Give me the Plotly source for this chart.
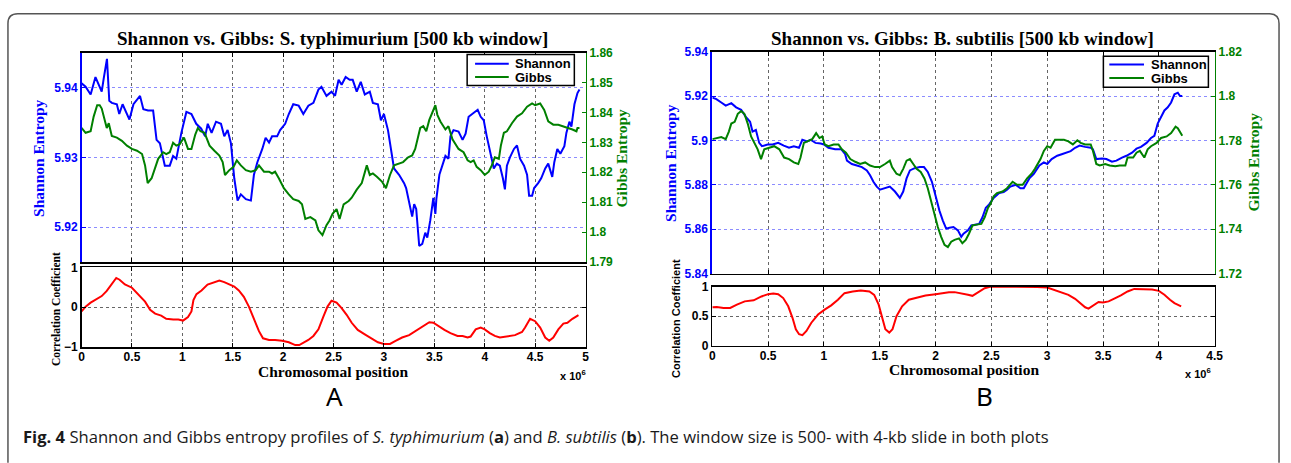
import plotly.graph_objects as go

# ---------------- data (positions in units of 10^6 bp) ----------------
a_shannon_pos = [0.0, 0.04, 0.09, 0.138, 0.17, 0.2, 0.22, 0.252, 0.275, 0.30, 0.35, 0.374, 0.407, 0.45, 0.475, 0.515, 0.58, 0.613, 0.66, 0.71, 0.744, 0.777, 0.826, 0.875, 0.908, 0.94, 0.99, 1.04, 1.09, 1.138, 1.187, 1.226, 1.252, 1.29, 1.334, 1.383, 1.416, 1.449, 1.482, 1.515, 1.548, 1.58, 1.63, 1.68, 1.71, 1.744, 1.793, 1.826, 1.86, 1.89, 1.94, 1.97, 2.02, 2.056, 2.1, 2.154, 2.2, 2.25, 2.3, 2.35, 2.38, 2.43, 2.48, 2.515, 2.55, 2.58, 2.62, 2.66, 2.69, 2.73, 2.77, 2.81, 2.86, 2.89, 2.94, 2.97, 3.0, 3.04, 3.07, 3.1, 3.15, 3.2, 3.22, 3.25, 3.28, 3.3, 3.32, 3.35, 3.38, 3.41, 3.43, 3.46, 3.49, 3.51, 3.52, 3.55, 3.58, 3.61, 3.64, 3.66, 3.69, 3.74, 3.78, 3.81, 3.84, 3.875, 3.91, 3.93, 3.96, 3.99, 4.02, 4.06, 4.09, 4.12, 4.15, 4.18, 4.2, 4.22, 4.25, 4.29, 4.32, 4.35, 4.39, 4.42, 4.44, 4.47, 4.49, 4.53, 4.56, 4.6, 4.63, 4.67, 4.69, 4.72, 4.75, 4.79, 4.81, 4.84, 4.86, 4.89, 4.92, 4.94]
a_shannon_val = [5.9406, 5.9401, 5.9390, 5.9415, 5.9404, 5.9394, 5.9413, 5.9441, 5.9381, 5.9378, 5.9376, 5.9362, 5.9376, 5.9362, 5.9354, 5.9376, 5.9388, 5.9369, 5.9367, 5.9367, 5.9325, 5.9320, 5.9288, 5.9288, 5.9302, 5.9298, 5.9335, 5.9365, 5.9362, 5.9348, 5.9341, 5.9330, 5.9348, 5.9335, 5.9351, 5.9348, 5.9330, 5.9339, 5.9320, 5.9270, 5.9238, 5.9247, 5.9240, 5.9238, 5.9275, 5.9293, 5.9312, 5.9328, 5.9321, 5.9330, 5.9330, 5.9339, 5.9348, 5.9362, 5.9376, 5.9374, 5.9362, 5.9374, 5.9378, 5.9397, 5.9401, 5.9388, 5.9394, 5.9388, 5.9411, 5.9404, 5.9415, 5.9411, 5.9411, 5.9394, 5.9408, 5.9390, 5.9394, 5.9378, 5.9376, 5.9353, 5.9362, 5.9339, 5.9312, 5.9284, 5.9275, 5.9263, 5.9256, 5.9233, 5.9215, 5.9233, 5.9226, 5.9173, 5.9176, 5.9192, 5.9185, 5.9210, 5.9242, 5.9219, 5.9240, 5.9275, 5.9288, 5.9302, 5.9298, 5.9330, 5.9339, 5.9337, 5.9325, 5.9334, 5.9358, 5.9362, 5.9365, 5.9368, 5.9358, 5.9353, 5.9330, 5.9302, 5.9284, 5.9291, 5.9288, 5.9270, 5.9254, 5.9288, 5.9300, 5.9312, 5.9317, 5.9298, 5.9288, 5.9275, 5.9245, 5.9245, 5.9256, 5.9263, 5.9270, 5.9284, 5.9291, 5.9272, 5.9293, 5.9312, 5.9305, 5.9316, 5.9335, 5.9351, 5.9344, 5.9376, 5.9392, 5.9397]

a_gibbs_pos = [0.0, 0.04, 0.09, 0.12, 0.155, 0.18, 0.2, 0.22, 0.25, 0.27, 0.3, 0.35, 0.4, 0.45, 0.5, 0.55, 0.6, 0.63, 0.656, 0.695, 0.728, 0.76, 0.81, 0.84, 0.875, 0.908, 0.94, 0.974, 1.016, 1.056, 1.09, 1.128, 1.154, 1.18, 1.22, 1.27, 1.318, 1.367, 1.4, 1.423, 1.466, 1.508, 1.54, 1.58, 1.63, 1.68, 1.728, 1.76, 1.81, 1.86, 1.89, 1.92, 1.957, 2.007, 2.056, 2.1, 2.154, 2.187, 2.22, 2.27, 2.32, 2.35, 2.39, 2.43, 2.46, 2.49, 2.53, 2.56, 2.6, 2.65, 2.68, 2.73, 2.78, 2.83, 2.86, 2.89, 2.93, 2.98, 3.02, 3.06, 3.1, 3.15, 3.19, 3.24, 3.28, 3.31, 3.33, 3.36, 3.39, 3.42, 3.45, 3.48, 3.51, 3.53, 3.56, 3.61, 3.64, 3.68, 3.71, 3.74, 3.79, 3.83, 3.86, 3.89, 3.92, 3.96, 4.0, 4.04, 4.07, 4.1, 4.14, 4.16, 4.19, 4.22, 4.27, 4.32, 4.37, 4.42, 4.47, 4.5, 4.55, 4.59, 4.63, 4.68, 4.73, 4.78, 4.83, 4.87, 4.91, 4.92, 4.94]
a_gibbs_val = [1.8348, 1.8332, 1.8337, 1.8386, 1.8424, 1.8424, 1.8413, 1.8386, 1.8348, 1.8364, 1.8321, 1.8316, 1.8305, 1.8289, 1.8278, 1.8272, 1.8261, 1.8223, 1.8164, 1.8180, 1.8213, 1.8245, 1.8267, 1.8261, 1.8267, 1.8299, 1.8289, 1.8294, 1.8316, 1.8278, 1.8278, 1.8326, 1.8348, 1.8337, 1.8332, 1.8289, 1.8272, 1.8256, 1.8234, 1.8191, 1.8207, 1.8218, 1.8240, 1.8223, 1.8207, 1.8202, 1.8207, 1.8223, 1.8202, 1.8202, 1.8196, 1.8202, 1.8180, 1.8147, 1.8126, 1.8110, 1.8104, 1.8093, 1.8044, 1.8050, 1.8039, 1.8006, 1.7990, 1.8023, 1.8039, 1.8061, 1.8077, 1.8044, 1.8093, 1.8104, 1.8115, 1.8142, 1.8164, 1.8223, 1.8191, 1.8196, 1.8185, 1.8169, 1.8147, 1.8191, 1.8223, 1.8229, 1.8234, 1.8250, 1.8256, 1.8278, 1.8310, 1.8348, 1.8354, 1.8337, 1.8375, 1.8397, 1.8424, 1.8392, 1.8370, 1.8343, 1.8354, 1.8310, 1.8294, 1.8278, 1.8267, 1.8240, 1.8234, 1.8240, 1.8218, 1.8207, 1.8191, 1.8202, 1.8223, 1.8250, 1.8245, 1.8289, 1.8332, 1.8337, 1.8364, 1.8386, 1.8397, 1.8419, 1.8430, 1.8424, 1.8430, 1.8408, 1.8370, 1.8359, 1.8359, 1.8354, 1.8348, 1.8343, 1.8337, 1.8348, 1.8348]

a_corr_pos = [0.0, 0.04, 0.09, 0.137, 0.2, 0.25, 0.3, 0.344, 0.377, 0.43, 0.5, 0.56, 0.63, 0.68, 0.73, 0.79, 0.84, 0.91, 0.96, 1.007, 1.056, 1.09, 1.11, 1.14, 1.19, 1.25, 1.31, 1.367, 1.416, 1.466, 1.515, 1.56, 1.61, 1.66, 1.71, 1.76, 1.8, 1.86, 1.92, 1.99, 2.056, 2.12, 2.16, 2.2, 2.25, 2.3, 2.35, 2.4, 2.44, 2.48, 2.53, 2.58, 2.63, 2.68, 2.74, 2.81, 2.87, 2.94, 3.0, 3.06, 3.12, 3.18, 3.25, 3.31, 3.38, 3.45, 3.49, 3.53, 3.6, 3.66, 3.73, 3.78, 3.83, 3.86, 3.91, 3.96, 4.0, 4.05, 4.1, 4.15, 4.22, 4.3, 4.37, 4.4, 4.45, 4.5, 4.55, 4.6, 4.64, 4.68, 4.73, 4.78, 4.82, 4.87, 4.93]
a_corr_val = [-0.106, 0.016, 0.114, 0.18, 0.28, 0.41, 0.59, 0.735, 0.69, 0.57, 0.49, 0.34, 0.14, -0.065, -0.16, -0.21, -0.29, -0.31, -0.31, -0.335, -0.245, -0.106, 0.18, 0.33, 0.42, 0.57, 0.63, 0.67, 0.63, 0.57, 0.52, 0.42, 0.26, 0.016, -0.31, -0.6, -0.78, -0.82, -0.82, -0.84, -0.88, -0.95, -0.95, -0.9, -0.82, -0.72, -0.555, -0.23, 0.016, 0.163, 0.114, -0.024, -0.19, -0.39, -0.57, -0.68, -0.78, -0.88, -0.92, -0.92, -0.84, -0.76, -0.7, -0.6, -0.49, -0.375, -0.39, -0.46, -0.57, -0.65, -0.72, -0.72, -0.76, -0.735, -0.555, -0.51, -0.555, -0.65, -0.72, -0.76, -0.74, -0.7, -0.62, -0.51, -0.29, -0.35, -0.51, -0.76, -0.84, -0.76, -0.555, -0.41, -0.39, -0.29, -0.2]

b_shannon_pos = [0.0, 0.036, 0.08, 0.12, 0.17, 0.213, 0.258, 0.3, 0.338, 0.36, 0.39, 0.42, 0.444, 0.495, 0.54, 0.59, 0.64, 0.687, 0.73, 0.776, 0.806, 0.85, 0.88, 0.924, 0.97, 1.0, 1.04, 1.1, 1.156, 1.19, 1.206, 1.25, 1.295, 1.34, 1.384, 1.413, 1.443, 1.473, 1.502, 1.547, 1.59, 1.636, 1.68, 1.71, 1.74, 1.77, 1.813, 1.858, 1.896, 1.93, 1.967, 2.005, 2.035, 2.065, 2.095, 2.124, 2.16, 2.2, 2.23, 2.25, 2.29, 2.32, 2.36, 2.39, 2.42, 2.45, 2.48, 2.52, 2.57, 2.61, 2.64, 2.67, 2.72, 2.76, 2.79, 2.84, 2.88, 2.93, 2.97, 3.0, 3.04, 3.09, 3.13, 3.18, 3.21, 3.25, 3.29, 3.34, 3.39, 3.41, 3.44, 3.49, 3.53, 3.58, 3.62, 3.67, 3.71, 3.76, 3.8, 3.84, 3.89, 3.93, 3.96, 3.99, 4.02, 4.05, 4.08, 4.11, 4.14, 4.17, 4.19, 4.21]
b_shannon_val = [5.9193, 5.9186, 5.9171, 5.9157, 5.9168, 5.9149, 5.9138, 5.9106, 5.9084, 5.9040, 5.9047, 5.8989, 5.8974, 5.8982, 5.8982, 5.8989, 5.8977, 5.8967, 5.8974, 5.8967, 5.9003, 5.8996, 5.9003, 5.8989, 5.8986, 5.8982, 5.8967, 5.8960, 5.8960, 5.8938, 5.8909, 5.8894, 5.8887, 5.8880, 5.8865, 5.8843, 5.8814, 5.8792, 5.8778, 5.8785, 5.8792, 5.8770, 5.8741, 5.8770, 5.8829, 5.8865, 5.8875, 5.8880, 5.8880, 5.8858, 5.8814, 5.8741, 5.8683, 5.8639, 5.8603, 5.8607, 5.8610, 5.8595, 5.8566, 5.8580, 5.8595, 5.8617, 5.8622, 5.8624, 5.8654, 5.8697, 5.8712, 5.8741, 5.8763, 5.8767, 5.8778, 5.8792, 5.8800, 5.8785, 5.8785, 5.8829, 5.8850, 5.8887, 5.8901, 5.8894, 5.8916, 5.8931, 5.8938, 5.8945, 5.8952, 5.8967, 5.8977, 5.8971, 5.8967, 5.8960, 5.8916, 5.8919, 5.8916, 5.8904, 5.8909, 5.8923, 5.8931, 5.8945, 5.8963, 5.8971, 5.8989, 5.9011, 5.9021, 5.9076, 5.9106, 5.9135, 5.9149, 5.9171, 5.9208, 5.9215, 5.9200, 5.9200]

b_gibbs_pos = [0.0, 0.036, 0.08, 0.12, 0.148, 0.17, 0.2, 0.228, 0.258, 0.287, 0.317, 0.347, 0.376, 0.406, 0.436, 0.465, 0.51, 0.554, 0.6, 0.643, 0.687, 0.73, 0.77, 0.79, 0.82, 0.85, 0.895, 0.93, 0.96, 0.984, 1.007, 1.04, 1.087, 1.13, 1.16, 1.197, 1.236, 1.28, 1.324, 1.369, 1.413, 1.458, 1.502, 1.547, 1.59, 1.61, 1.65, 1.68, 1.71, 1.74, 1.77, 1.8, 1.83, 1.867, 1.9, 1.93, 1.96, 1.99, 2.02, 2.05, 2.08, 2.11, 2.14, 2.17, 2.21, 2.24, 2.27, 2.3, 2.33, 2.38, 2.41, 2.44, 2.47, 2.49, 2.52, 2.55, 2.6, 2.64, 2.69, 2.73, 2.78, 2.82, 2.86, 2.89, 2.94, 2.97, 3.0, 3.03, 3.07, 3.1, 3.15, 3.19, 3.23, 3.27, 3.3, 3.34, 3.39, 3.41, 3.44, 3.47, 3.52, 3.56, 3.61, 3.65, 3.7, 3.72, 3.77, 3.8, 3.83, 3.87, 3.9, 3.93, 3.98, 4.02, 4.07, 4.11, 4.15, 4.17, 4.19, 4.21]
b_gibbs_val = [1.7806, 1.7811, 1.7815, 1.7806, 1.7840, 1.7876, 1.7884, 1.7920, 1.7932, 1.7920, 1.7876, 1.7818, 1.7789, 1.7760, 1.7716, 1.7760, 1.7767, 1.7774, 1.7760, 1.7723, 1.7716, 1.7701, 1.7694, 1.7723, 1.7789, 1.7796, 1.7806, 1.7833, 1.7811, 1.7818, 1.7782, 1.7774, 1.7782, 1.7782, 1.7760, 1.7745, 1.7716, 1.7704, 1.7694, 1.7701, 1.7687, 1.7680, 1.7680, 1.7694, 1.7709, 1.7680, 1.7650, 1.7643, 1.7672, 1.7709, 1.7716, 1.7694, 1.7672, 1.7658, 1.7629, 1.7585, 1.7527, 1.7468, 1.7410, 1.7366, 1.7330, 1.7320, 1.7344, 1.7352, 1.7359, 1.7337, 1.7352, 1.7381, 1.7417, 1.7422, 1.7424, 1.7454, 1.7497, 1.7512, 1.7548, 1.7563, 1.7570, 1.7585, 1.7614, 1.7600, 1.7600, 1.7629, 1.7650, 1.7672, 1.7716, 1.7753, 1.7774, 1.7767, 1.7803, 1.7803, 1.7803, 1.7796, 1.7782, 1.7801, 1.7789, 1.7782, 1.7782, 1.7753, 1.7694, 1.7687, 1.7694, 1.7687, 1.7684, 1.7687, 1.7687, 1.7723, 1.7723, 1.7745, 1.7753, 1.7723, 1.7760, 1.7774, 1.7789, 1.7811, 1.7818, 1.7833, 1.7862, 1.7855, 1.7840, 1.7821]

b_corr_pos = [0.0, 0.04, 0.1, 0.16, 0.22, 0.29, 0.37, 0.44, 0.5, 0.546, 0.59, 0.635, 0.68, 0.718, 0.748, 0.777, 0.807, 0.843, 0.887, 0.947, 1.006, 1.065, 1.125, 1.184, 1.258, 1.33, 1.407, 1.45, 1.49, 1.525, 1.55, 1.585, 1.614, 1.65, 1.7, 1.76, 1.84, 1.91, 2.0, 2.06, 2.12, 2.17, 2.23, 2.29, 2.33, 2.38, 2.44, 2.495, 2.61, 2.76, 2.91, 3.0, 3.06, 3.13, 3.19, 3.25, 3.3, 3.34, 3.37, 3.4, 3.46, 3.5, 3.55, 3.61, 3.66, 3.72, 3.78, 3.86, 3.94, 4.0, 4.05, 4.1, 4.14, 4.2]
b_corr_val = [0.65, 0.656, 0.64, 0.64, 0.694, 0.75, 0.767, 0.833, 0.872, 0.883, 0.872, 0.806, 0.667, 0.472, 0.278, 0.194, 0.178, 0.25, 0.389, 0.528, 0.611, 0.683, 0.778, 0.889, 0.917, 0.933, 0.917, 0.861, 0.694, 0.444, 0.278, 0.222, 0.278, 0.5, 0.667, 0.778, 0.817, 0.85, 0.872, 0.889, 0.906, 0.906, 0.889, 0.861, 0.844, 0.906, 0.972, 1.0, 1.0, 1.0, 0.994, 0.983, 0.944, 0.906, 0.861, 0.794, 0.722, 0.65, 0.628, 0.667, 0.739, 0.733, 0.75, 0.806, 0.85, 0.917, 0.961, 0.956, 0.95, 0.928, 0.861, 0.778, 0.722, 0.667]

a_x_ticks = [0, 0.5, 1, 1.5, 2, 2.5, 3, 3.5, 4, 4.5, 5]
a_x_labels = ["0", "0.5", "1", "1.5", "2", "2.5", "3", "3.5", "4", "4.5", "5"]
b_x_ticks = [0, 0.5, 1, 1.5, 2, 2.5, 3, 3.5, 4, 4.5]
b_x_labels = ["0", "0.5", "1", "1.5", "2", "2.5", "3", "3.5", "4", "4.5"]
a_left_ticks = [5.92, 5.93, 5.94]
a_left_labels = ["5.92", "5.93", "5.94"]
a_right_ticks = [1.79, 1.80, 1.81, 1.82, 1.83, 1.84, 1.85, 1.86]
a_right_labels = ["1.79", "1.8", "1.81", "1.82", "1.83", "1.84", "1.85", "1.86"]
b_left_ticks = [5.84, 5.86, 5.88, 5.90, 5.92, 5.94]
b_left_labels = ["5.84", "5.86", "5.88", "5.9", "5.92", "5.94"]
b_right_ticks = [1.72, 1.74, 1.76, 1.78, 1.80, 1.82]
b_right_labels = ["1.72", "1.74", "1.76", "1.78", "1.8", "1.82"]
a_corr_ticks = [-1, 0, 1]
a_corr_labels = ["\u22121", "0", "1"]
b_corr_ticks = [0, 0.5, 1]
b_corr_labels = ["0", "0.5", "1"]
series_names = ["Shannon", "Gibbs"]

# ---------------- styling ----------------
W, H = 1291, 463
BLUE = "#0000ff"
GREEN = "#008000"
RED = "#ff0000"
SANS = "Liberation Sans, Arial, sans-serif"
SERIF = "Liberation Serif, Times New Roman, serif"


def fx(p):
    return p / W


def fy(p):
    return 1 - p / H


fig = go.Figure()

# Panel A
fig.add_trace(go.Scatter(x=a_shannon_pos, y=a_shannon_val, mode="lines", name=series_names[0],
                         line=dict(color=BLUE, width=2), xaxis="x", yaxis="y"))
fig.add_trace(go.Scatter(x=a_gibbs_pos, y=a_gibbs_val, mode="lines", name=series_names[1],
                         line=dict(color=GREEN, width=2), xaxis="x", yaxis="y2"))
fig.add_trace(go.Scatter(x=a_corr_pos, y=a_corr_val, mode="lines", name="Correlation",
                         line=dict(color=RED, width=2), xaxis="x2", yaxis="y3"))
# Panel B
fig.add_trace(go.Scatter(x=b_shannon_pos, y=b_shannon_val, mode="lines", name=series_names[0],
                         line=dict(color=BLUE, width=2), xaxis="x3", yaxis="y4"))
fig.add_trace(go.Scatter(x=b_gibbs_pos, y=b_gibbs_val, mode="lines", name=series_names[1],
                         line=dict(color=GREEN, width=2), xaxis="x3", yaxis="y5"))
fig.add_trace(go.Scatter(x=b_corr_pos, y=b_corr_val, mode="lines", name="Correlation",
                         line=dict(color=RED, width=2), xaxis="x4", yaxis="y6"))

tickfont_black = dict(family=SANS, size=12, color="black", weight="bold")
tickfont_blue = dict(family=SANS, size=12, color=BLUE, weight="bold")
tickfont_green = dict(family=SANS, size=12, color=GREEN, weight="bold")

common_x = dict(showline=True, linecolor="black", linewidth=1.5, mirror="ticks",
                ticks="inside", ticklen=4, tickcolor="black",
                showgrid=True, gridcolor="#666666", griddash="dot", gridwidth=1,
                zeroline=False, fixedrange=True)

A_X = [fx(79.3), fx(588)]
B_X = [fx(716), fx(1223)]

layout_axes = dict(
    xaxis=dict(domain=A_X, anchor="y", range=[0, 5], tickvals=a_x_ticks,
               showticklabels=False, **common_x),
    yaxis=dict(domain=[fy(263), fy(47)], anchor="x", range=[5.915, 5.945],
               tickvals=a_left_ticks, ticktext=a_left_labels, tickfont=tickfont_blue,
               showline=True, linecolor=BLUE, linewidth=1.5, ticks="inside", ticklen=4,
               tickcolor=BLUE, showgrid=True, gridcolor="#8c8cff", griddash="dot",
               zeroline=False, fixedrange=True),
    yaxis2=dict(overlaying="y", side="right", anchor="x", range=[1.79, 1.86],
                tickvals=a_right_ticks, ticktext=a_right_labels, tickfont=tickfont_green,
                showline=True, linecolor=GREEN, linewidth=1.5, ticks="inside", ticklen=4,
                tickcolor=GREEN, showgrid=False, zeroline=False, fixedrange=True),
    xaxis2=dict(domain=A_X, anchor="y3", range=[0, 5], tickvals=a_x_ticks,
                ticktext=a_x_labels, tickfont=tickfont_black, ticklabelstandoff=-2, **common_x),
    yaxis3=dict(domain=[fy(350.7), fy(268.5)], anchor="x2", range=[-1, 1],
                tickvals=a_corr_ticks, ticktext=a_corr_labels, tickfont=tickfont_black,
                **common_x),
    xaxis3=dict(domain=B_X, anchor="y4", range=[0, 4.5], tickvals=b_x_ticks,
                showticklabels=False, **common_x),
    yaxis4=dict(domain=[fy(275), fy(46)], anchor="x3", range=[5.84, 5.94],
                tickvals=b_left_ticks, ticktext=b_left_labels, tickfont=tickfont_blue,
                showline=True, linecolor=BLUE, linewidth=2, ticks="inside", ticklen=4,
                tickcolor=BLUE, showgrid=True, gridcolor="#8c8cff", griddash="dot",
                zeroline=False, fixedrange=True),
    yaxis5=dict(overlaying="y4", side="right", anchor="x3", range=[1.72, 1.82],
                tickvals=b_right_ticks, ticktext=b_right_labels, tickfont=tickfont_green,
                showline=True, linecolor=GREEN, linewidth=1.5, ticks="inside", ticklen=4,
                tickcolor=GREEN, showgrid=False, zeroline=False, fixedrange=True),
    xaxis4=dict(domain=B_X, anchor="y6", range=[0, 4.5], tickvals=b_x_ticks,
                ticktext=b_x_labels, tickfont=tickfont_black, ticklabelstandoff=-2, **common_x),
    yaxis6=dict(domain=[fy(349.3), fy(288.3)], anchor="x4", range=[0, 1],
                tickvals=b_corr_ticks, ticktext=b_corr_labels, tickfont=tickfont_black,
                **common_x),
)

annotations = []
shapes = []


def ann(text, x, y, size, family, color="black", angle=0, weight="bold", xanchor="center"):
    annotations.append(dict(text=text, x=fx(x), y=fy(y), xref="paper", yref="paper",
                            showarrow=False, xanchor=xanchor, yanchor="middle",
                            textangle=angle,
                            font=dict(family=family, size=size, color=color, weight=weight)))


ann("Shannon vs. Gibbs: S. typhimurium [500 kb window]", 333, 32, 19, SERIF)
ann("Shannon vs. Gibbs: B. subtilis [500 kb window]", 968, 32, 19, SERIF)
ann("Shannon Entropy", 36, 156, 15.5, SERIF, BLUE, -90)
ann("Gibbs Entropy", 624, 156, 15.5, SERIF, GREEN, -90)
ann("Shannon Entropy", 673, 161, 15.5, SERIF, BLUE, -90)
ann("Gibbs Entropy", 1262, 160, 15.5, SERIF, GREEN, -90)
ann("Correlation Coefficient", 53, 312, 11.5, SERIF, "black", -90)
ann("Correlation Coefficient", 680, 321, 11, SANS, "black", -90)
ann("Chromosomal position", 333, 376, 15.5, SERIF)
ann("Chromosomal position", 970, 374, 15.5, SERIF)
ann("x 10<sup>6</sup>", 575, 379, 11, SANS)
ann("x 10<sup>6</sup>", 1206, 377, 11, SANS)
ann("A", 335, 401, 26, "Noto Sans", "black", 0, "normal")
ann("B", 991, 401, 26, "Noto Sans", "black", 0, "normal")
ann("<b>Fig. 4</b> Shannon and Gibbs entropy profiles of <i>S. typhimurium</i> (<b>a</b>) and <i>B. subtilis</i> (<b>b</b>). "
    "The window size is 500- with 4-kb slide in both plots",
    18, 443, 16.6, "Open Sans", "#1a1a1a", 0, "normal", "left")

# legends drawn as boxed keys (MATLAB style, compact rows)
legend_boxes = [
    dict(box=(468.5, 49, 576.7, 81), line_x=(476.5, 510.5), rows=(58.5, 72.3), text_x=515),
    dict(box=(1110.7, 50.7, 1216.7, 82.7), line_x=(1116.7, 1151.7), rows=(59.3, 73.3), text_x=1156.5),
]
for lb in legend_boxes:
    x0, y0, x1, y1 = lb["box"]
    shapes.append(dict(type="rect", xref="paper", yref="paper", x0=fx(x0), x1=fx(x1),
                       y0=fy(y1), y1=fy(y0), line=dict(color="black", width=1.5),
                       fillcolor="white", layer="above"))
    for name, color, row in zip(series_names, [BLUE, GREEN], lb["rows"]):
        shapes.append(dict(type="line", xref="paper", yref="paper",
                           x0=fx(lb["line_x"][0]), x1=fx(lb["line_x"][1]),
                           y0=fy(row), y1=fy(row), line=dict(color=color, width=2),
                           layer="above"))
        ann(name, lb["text_x"], row, 13, SANS, "black", 0, "bold", "left")

# rounded frame (open at the bottom)
r = 10
frame_path = (f"M {fx(5)},{fy(470)} L {fx(5)},{fy(7 + r)} Q {fx(5)},{fy(7)} {fx(5 + r)},{fy(7)} "
              f"L {fx(1288 - r)},{fy(7)} Q {fx(1288)},{fy(7)} {fx(1288)},{fy(7 + r)} L {fx(1288)},{fy(470)}")
shapes.append(dict(type="path", path=frame_path, xref="paper", yref="paper",
                   line=dict(color="#555555", width=1.5)))

fig.update_layout(
    width=W, height=H, autosize=False,
    margin=dict(l=0, r=0, t=0, b=0, pad=0),
    paper_bgcolor="white", plot_bgcolor="white",
    showlegend=False,
    annotations=annotations,
    shapes=shapes,
    **layout_axes,
)

fig.write_html("out.html",
               config={"displayModeBar": False, "staticPlot": True},
               post_script="document.body.style.margin='0px';document.body.style.overflow='hidden';")
